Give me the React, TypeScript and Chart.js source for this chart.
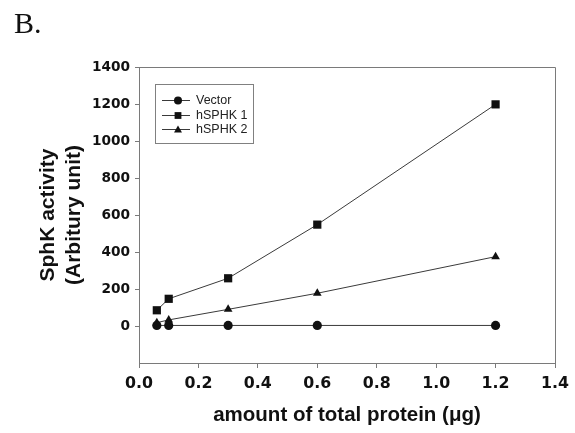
import { useEffect, useRef } from 'react';
import { Chart, registerables } from 'chart.js';

Chart.register(...registerables);

const proteinAmounts = [0.06, 0.1, 0.3, 0.6, 1.2];
const vectorValues = [3, 3, 3, 3, 3];
const hsphk1Values = [85, 147, 258, 548, 1198];
const hsphk2Values = [18, 33, 90, 177, 375];
const seriesLabels = ['Vector', 'hSPHK 1', 'hSPHK 2'];
const seriesMarkers = ['circle', 'rect', 'triangle'];
const panelLabel = 'B.';
const yTitleLines = ['SphK activity', '(Arbitury unit)'];
const xTitleText = 'amount of total protein (\u03bcg)';

const AXIS_GREY = '#7a7a7a';
const LINE_GREY = '#3a3a3a';
const MARK = '#111111';

function drawMarker(ctx: CanvasRenderingContext2D, style: string, x: number, y: number, s: number) {
  ctx.beginPath();
  if (style === 'circle') {
    ctx.arc(x, y, s, 0, Math.PI * 2);
  } else if (style === 'rect') {
    ctx.rect(x - s, y - s, 2 * s, 2 * s);
  } else {
    ctx.moveTo(x, y - s * 1.1);
    ctx.lineTo(x + s * 1.1, y + s * 0.8);
    ctx.lineTo(x - s * 1.1, y + s * 0.8);
    ctx.closePath();
  }
  ctx.fill();
}

const framePlugin = {
  id: 'frame',
  afterDraw(chart: any) {
    const { ctx, chartArea } = chart;
    const { left, top, right, bottom } = chartArea;
    ctx.save();
    ctx.strokeStyle = AXIS_GREY;
    ctx.lineWidth = 1;
    ctx.beginPath();
    ctx.moveTo(Math.round(left) + 0.5, Math.round(top) + 0.5);
    ctx.lineTo(Math.round(right) + 0.5, Math.round(top) + 0.5);
    ctx.lineTo(Math.round(right) + 0.5, Math.round(bottom) + 0.5);
    ctx.stroke();
    ctx.fillStyle = '#111';
    ctx.font = '30px "Liberation Serif", serif';
    ctx.textBaseline = 'alphabetic';
    ctx.textAlign = 'left';
    ctx.fillText(panelLabel, 14, 33);
    ctx.restore();
  },
};

const legendPlugin = {
  id: 'boxLegend',
  afterDraw(chart: any) {
    const { ctx, chartArea } = chart;
    const x0 = Math.round(chartArea.left) + 16;
    const y0 = Math.round(chartArea.top) + 17;
    const w = 98;
    const h = 59;
    ctx.save();
    ctx.fillStyle = '#fff';
    ctx.fillRect(x0, y0, w, h);
    ctx.strokeStyle = '#808080';
    ctx.lineWidth = 1;
    ctx.strokeRect(x0 + 0.5, y0 + 0.5, w, h);
    chart.data.datasets.forEach((ds: any, i: number) => {
      const cy = Math.round(y0 + 16 + i * 14.5);
      ctx.strokeStyle = LINE_GREY;
      ctx.beginPath();
      ctx.moveTo(x0 + 7, cy + 0.5);
      ctx.lineTo(x0 + 35, cy + 0.5);
      ctx.stroke();
      ctx.fillStyle = MARK;
      const st = seriesMarkers[i];
      drawMarker(ctx, st, x0 + 23, cy + 0.5, st === 'circle' ? 4 : st === 'rect' ? 3.4 : 3.6);
      ctx.fillStyle = '#222';
      ctx.font = '12.5px "Liberation Sans", Arial, sans-serif';
      ctx.textBaseline = 'middle';
      ctx.textAlign = 'left';
      ctx.fillText(ds.label, x0 + 41, cy + 1);
    });
    ctx.restore();
  },
};

export default function App() {
  const canvasRef = useRef<HTMLCanvasElement | null>(null);

  useEffect(() => {
    const canvas = canvasRef.current;
    if (!canvas) return;
    const seriesValues = [vectorValues, hsphk1Values, hsphk2Values];
    const radii = [4.6, 5.8, 5.0];
    const chart = new Chart(canvas, {
      type: 'line',
      data: {
        datasets: seriesValues.map((vals, i) => ({
          label: seriesLabels[i],
          data: proteinAmounts.map((x, j) => ({ x, y: vals[j] })),
          borderColor: LINE_GREY,
          borderWidth: 1,
          backgroundColor: MARK,
          pointBackgroundColor: MARK,
          pointBorderColor: MARK,
          pointBorderWidth: 0,
          pointStyle: seriesMarkers[i] as any,
          pointRadius: radii[i],
          tension: 0,
          fill: false,
        })),
      },
      options: {
        responsive: false,
        animation: false,
        layout: { padding: { top: 67, right: 17, left: 0, bottom: 0 } },
        plugins: {
          legend: { display: false },
          tooltip: { enabled: false },
        },
        scales: {
          x: {
            type: 'linear',
            min: 0,
            max: 1.4,
            border: { display: true, color: AXIS_GREY, width: 1 },
            grid: { display: true, drawOnChartArea: false, drawTicks: true, tickLength: 5, color: AXIS_GREY },
            ticks: {
              stepSize: 0.2,
              padding: 6,
              color: '#111',
              font: { family: '"DejaVu Sans", sans-serif', weight: 'bold', size: 15.8 },
              callback: (v: any) => Number(v).toFixed(1),
              maxRotation: 0,
            },
            title: {
              display: true,
              text: xTitleText,
              color: '#111',
              font: { family: '"Liberation Sans", Arial, sans-serif', weight: 'bold', size: 20.5, lineHeight: 1.2 },
              padding: { top: 0, bottom: 5 },
            },
            afterFit: (scale: any) => {
              scale.height = 70;
            },
          },
          y: {
            type: 'linear',
            min: -200,
            max: 1400,
            border: { display: true, color: AXIS_GREY, width: 1 },
            grid: { display: true, drawOnChartArea: false, drawTicks: true, tickLength: 4, color: AXIS_GREY },
            ticks: {
              stepSize: 200,
              padding: 5,
              color: '#111',
              font: { family: '"DejaVu Sans", sans-serif', weight: 'bold', size: 13.7 },
              callback: (v: any) => String(Math.round(Number(v))),
            },
            afterBuildTicks: (scale: any) => {
              scale.ticks = scale.ticks.filter((t: any) => t.value > -200);
            },
            title: {
              display: true,
              text: yTitleLines,
              color: '#111',
              font: { family: '"Liberation Sans", Arial, sans-serif', weight: 'bold', size: 21, lineHeight: 26 / 21 },
              padding: { top: 35, bottom: 0 },
            },
            afterFit: (scale: any) => {
              scale.width = 139;
            },
          },
        },
      },
      plugins: [framePlugin, legendPlugin],
    });
    return () => chart.destroy();
  }, []);

  return (
    <div style={{ position: 'absolute', left: 0, top: 0, width: 575, height: 433, background: '#fff' }}>
      <canvas ref={canvasRef} width={575} height={433} style={{ width: 575, height: 433, display: 'block' }} />
    </div>
  );
}
